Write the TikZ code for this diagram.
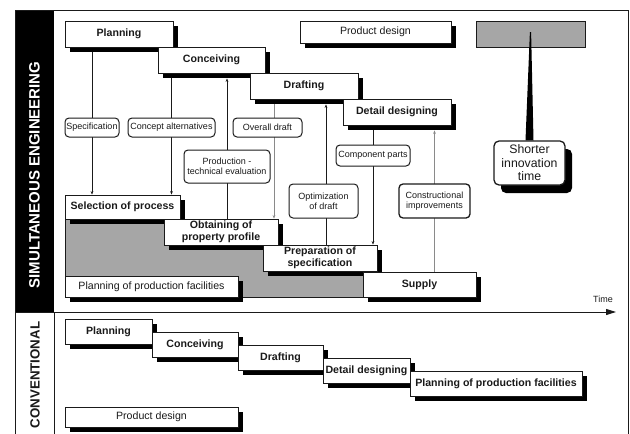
\documentclass[tikz,border=0pt]{standalone}
\usepackage{fontspec}
\setmainfont{Liberation Sans}
\usetikzlibrary{shadows,arrows.meta,backgrounds}
\definecolor{ink}{HTML}{1A1A1A}
\definecolor{phase}{HTML}{A6A6A6}
\definecolor{faint}{HTML}{8A8A8A}
\begin{document}
\begin{tikzpicture}[x=1pt,y=-1pt,
  frame/.style={draw=ink,line width=1pt},
  stage/.style={draw=ink,line width=0.9pt,fill=white,inner sep=0pt,align=center,text=ink,
    font=\fontsize{10.6}{12}\selectfont\bfseries,
    general shadow={fill=black,shadow xshift=5pt,shadow yshift=-5pt}},
  plainstage/.style={stage,font=\fontsize{10.6}{12}\selectfont},
  note/.style={draw=ink,line width=1pt,fill=white,rounded corners=4pt,inner sep=0pt,
    align=center,text=ink,font=\fontsize{9}{10.3}\selectfont},
  flow/.style={draw=ink,line width=0.7pt,-{Stealth[length=3.5pt,width=2.8pt]}},
  grayflow/.style={draw=faint,line width=0.7pt,-{Stealth[length=3.5pt,width=2.8pt]}},
]
\useasboundingbox (0,0) rectangle (630,434);

% outer frame and side bands
\fill[black] (15,10) rectangle (54,312);
\draw[frame] (15,434) -- (15,10) -- (628,10) -- (628,434);
\draw[frame] (54,312) -- (54,434);
\node[rotate=90,text=white,font=\fontsize{15}{15}\selectfont\bfseries] (simlabel) at (34.5,175) {SIMULTANEOUS ENGINEERING};
\node[rotate=90,text=ink,font=\fontsize{13.3}{14}\selectfont\bfseries] (convlabel) at (35,375) {CONVENTIONAL};

% simultaneous engineering: product design phases
\node[stage,minimum width=108pt,minimum height=26pt] (plan) at (119,34) {Planning};
\node[stage,minimum width=107pt,minimum height=26pt] (conc) at (211.5,60) {Conceiving};
\node[stage,minimum width=108pt,minimum height=26pt] (draft) at (304,86) {Drafting};
\node[stage,minimum width=108pt,minimum height=26pt] (detail) at (397,112) {Detail designing};
\node[plainstage,minimum width=151pt,minimum height=22pt] (prod) at (375.5,32) {Product design};
\node[draw=ink,line width=0.9pt,fill=phase,minimum width=109pt,minimum height=26pt,inner sep=0pt] (gbox) at (530.5,34) {};

% production facilities planning, shaded
\fill[phase,draw=ink,line width=0.6pt] (65,219) -- (164,219) -- (164,245) -- (263,245) -- (263,271)
  -- (363,271) -- (363,297) -- (65,297) -- cycle;
\node[stage,minimum width=115pt,minimum height=24pt] (sel) at (122.5,207) {Selection of process};
\node[stage,minimum width=114pt,minimum height=26pt] (obt) at (221,232) {Obtaining of\\property profile};
\node[stage,minimum width=114pt,minimum height=26pt] (prep) at (320,258) {Preparation of\\specification};
\node[plainstage,minimum width=173pt,minimum height=21pt] (ppf) at (151.5,286.5) {Planning of production facilities};
\node[stage,minimum width=113pt,minimum height=25pt] (supply) at (419.5,284.5) {Supply};

% exchange notes
\node[note,minimum width=54pt,minimum height=19pt] (spec) at (92,127.5) {Specification};
\node[note,minimum width=87pt,minimum height=19pt] (calt) at (171.5,127.5) {Concept alternatives};
\node[note,minimum width=69pt,minimum height=19pt] (odraft) at (267.5,127.5) {Overall draft};
\node[note,minimum width=86pt,minimum height=33pt] (ptev) at (227,166.5) {Production -\\technical evaluation};
\node[note,minimum width=69pt,minimum height=34pt] (optd) at (323.5,201) {Optimization\\of draft};
\node[note,minimum width=74pt,minimum height=21pt] (comp) at (373,155.5) {Component parts};
\node[note,line width=1.3pt,minimum width=71pt,minimum height=34pt] (cimp) at (434.5,201) {Constructional\\improvements};

% information flows between the phases, kept behind the notes
\coordinate (dx) at ([xshift=-30pt]draft.south);
\coordinate (px) at ([xshift=2.5pt]optd.center);
\begin{scope}[on background layer]
\draw[flow] (plan.south -| spec.center) -- (sel.north -| spec.center);
\draw[flow] (conc.south -| calt.center) -- (sel.north -| calt.center);
\draw[flow] (obt.north -| ptev.center) -- ([yshift=-5pt]conc.south -| ptev.center);
\draw[grayflow] (dx) -- (dx |- obt.north);
\draw[flow] (prep.north -| px) -- ([yshift=-5pt]draft.south -| px);
\draw[flow] (detail.south -| comp.center) -- (prep.north -| comp.center);
\draw[grayflow] (supply.north -| cimp.center) -- ([yshift=-5pt]detail.south -| cimp.center);
\end{scope}

% shorter innovation time
\node[note,line width=1.3pt,rounded corners=5pt,minimum width=71pt,minimum height=44pt,
  font=\fontsize{12.3}{13.5}\selectfont,
  general shadow={fill=black,shadow xshift=7pt,shadow yshift=-8pt}] (short) at (529.5,163) {Shorter\\innovation\\time};
\fill[black] ([xshift=-0.6pt,yshift=2pt]gbox.center) -- ([xshift=0.6pt,yshift=2pt]gbox.center)
  -- ([xshift=4pt]short.north) -- ([xshift=-4pt]short.north) -- cycle;

% time axis
\coordinate (axs) at (15,312);
\coordinate (axe) at (616,312);
\draw[ink,line width=1pt,-{Triangle[length=10pt,width=6pt]}] (axs) -- (axe);
\node[text=ink,font=\fontsize{9}{10}\selectfont] (timelabel) at (603,299) {Time};

% conventional sequence
\node[stage,minimum width=87pt,minimum height=25pt] (cplan) at (108.5,331.5) {Planning};
\node[stage,minimum width=86pt,minimum height=25pt] (cconc) at (195,344.5) {Conceiving};
\node[stage,minimum width=85pt,minimum height=25pt] (cdraft) at (280.5,357.5) {Drafting};
\node[stage,minimum width=87pt,minimum height=25pt] (cdet) at (366.5,370.5) {Detail designing};
\node[stage,minimum width=172pt,minimum height=25pt] (cppf) at (496,383.5) {Planning of production facilities};
\node[plainstage,minimum width=173pt,minimum height=20pt] (cprod) at (151.5,417) {Product design};
\end{tikzpicture}
\end{document}
